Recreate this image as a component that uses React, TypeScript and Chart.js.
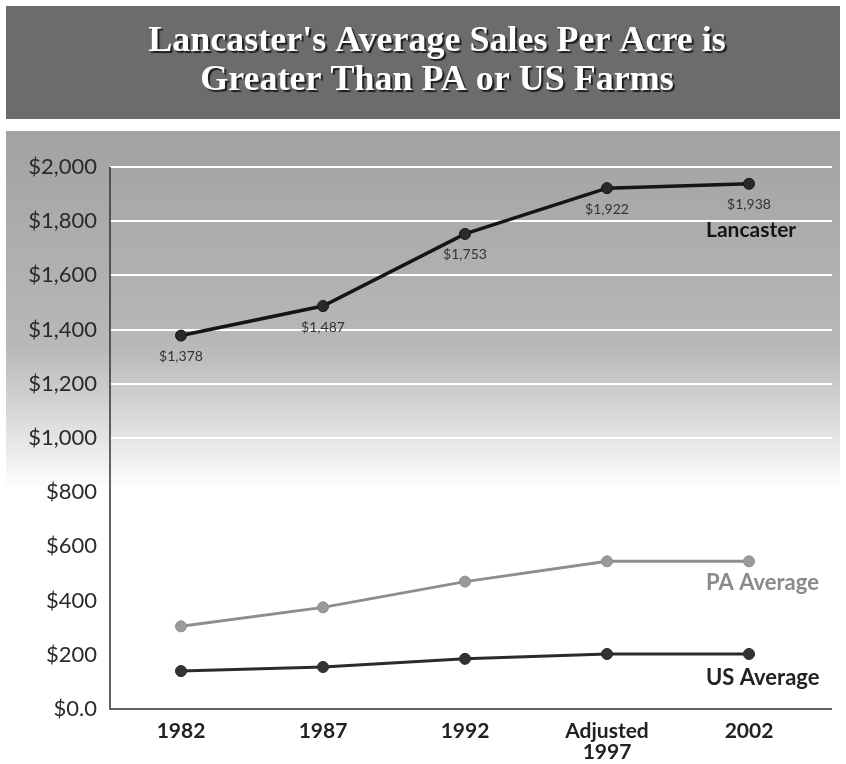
import React, { useEffect, useRef } from "react";
import { Chart, registerables } from "chart.js";

Chart.register(...registerables);

const categories: (string | string[])[] = ["1982", "1987", "1992", ["Adjusted", "1997"], "2002"];
const lancaster = [1378, 1487, 1753, 1922, 1938];
const paAverage = [305, 375, 470, 545, 545];
const usAverage = [140, 155, 185, 203, 203];
const lancasterLabels = ["$1,378", "$1,487", "$1,753", "$1,922", "$1,938"];
const yTickLabels = ["$0.0", "$200", "$400", "$600", "$800", "$1,000", "$1,200", "$1,400", "$1,600", "$1,800", "$2,000"];
const seriesNames = ["Lancaster", "PA Average", "US Average"];
const titleLines = ["Lancaster's Average Sales Per Acre is", "Greater Than PA or US Farms"];

const SANS = "Lato, 'Open Sans', 'DejaVu Sans', sans-serif";

const decor = {
  id: "decor",
  afterLayout(chart: any) {
    const tb = chart.titleBlock;
    if (tb) {
      tb.left = 28;
      tb.right = chart.width;
      if (!tb._shadowPatched) {
        const orig = tb.draw.bind(tb);
        tb.draw = function (area: any) {
          const c = chart.ctx;
          c.save();
          c.shadowColor = "rgba(20,20,20,0.9)";
          c.shadowOffsetX = 2;
          c.shadowOffsetY = 2;
          c.shadowBlur = 1;
          orig(area);
          c.restore();
        };
        tb._shadowPatched = true;
      }
    }
  },
  beforeDraw(chart: any) {
    const { ctx, width, height } = chart;
    ctx.save();
    ctx.fillStyle = "#ffffff";
    ctx.fillRect(0, 0, width, height);
    ctx.fillStyle = "#6c6c6c";
    ctx.fillRect(6, 6, width - 12, 113);
    const g = ctx.createLinearGradient(0, 131, 0, 490);
    g.addColorStop(0, "#a2a2a2");
    g.addColorStop(0.6, "#b8b8b8");
    g.addColorStop(0.8, "#dadada");
    g.addColorStop(1, "#ffffff");
    ctx.fillStyle = g;
    ctx.fillRect(6, 131, width - 12, 360);
    ctx.restore();
  },
  beforeDatasetsDraw(chart: any) {
    const { ctx, chartArea } = chart;
    const y = chart.scales.y;
    const right = chartArea.right + 12;
    ctx.save();
    ctx.strokeStyle = "#ffffff";
    ctx.lineWidth = 2;
    y.ticks.forEach((t: any) => {
      if (t.value === 0) return;
      const py = Math.round(y.getPixelForValue(t.value));
      ctx.beginPath();
      ctx.moveTo(chartArea.left, py);
      ctx.lineTo(right, py);
      ctx.stroke();
    });
    ctx.strokeStyle = "#333333";
    ctx.lineWidth = 1.5;
    ctx.beginPath();
    ctx.moveTo(chartArea.left, chartArea.top);
    ctx.lineTo(chartArea.left, chartArea.bottom);
    ctx.lineTo(right, chartArea.bottom);
    ctx.stroke();
    ctx.restore();
  },
  afterDatasetsDraw(chart: any) {
    const { ctx } = chart;
    ctx.save();
    ctx.textAlign = "center";
    ctx.textBaseline = "middle";
    ctx.font = "14px " + SANS;
    ctx.fillStyle = "#333333";
    const m0 = chart.getDatasetMeta(0);
    m0.data.forEach((pt: any, i: number) => {
      ctx.fillText(lancasterLabels[i], pt.x, pt.y + 21);
    });
    const offsets = [46, 22, 24];
    const fonts = ["bold 21px " + SANS, "bold 22px " + SANS, "bold 22px " + SANS];
    const colors = ["#151515", "#8a8a8a", "#222222"];
    ctx.textAlign = "left";
    for (let di = 0; di < 3; di++) {
      const meta = chart.getDatasetMeta(di);
      const last = meta.data[meta.data.length - 1];
      ctx.font = fonts[di];
      ctx.fillStyle = colors[di];
      ctx.fillText(seriesNames[di], last.x - 43, last.y + offsets[di]);
    }
    ctx.restore();
  },
};

export default function App() {
  const ref = useRef<HTMLCanvasElement | null>(null);
  useEffect(() => {
    document.body.style.margin = "0";
    if (!ref.current) return;
    const chart = new Chart(ref.current, {
      type: "line",
      data: {
        labels: categories as any,
        datasets: [
          {
            label: seriesNames[0],
            data: lancaster,
            borderColor: "#151515",
            backgroundColor: "#222222",
            borderWidth: 3.5,
            pointRadius: 5.5,
            pointBackgroundColor: "#2a2a2a",
            pointBorderColor: "#151515",
            pointBorderWidth: 1,
            tension: 0,
          },
          {
            label: seriesNames[1],
            data: paAverage,
            borderColor: "#8e8e8e",
            backgroundColor: "#999999",
            borderWidth: 3,
            pointRadius: 5.5,
            pointBackgroundColor: "#9a9a9a",
            pointBorderColor: "#8e8e8e",
            pointBorderWidth: 1,
            tension: 0,
          },
          {
            label: seriesNames[2],
            data: usAverage,
            borderColor: "#2b2b2b",
            backgroundColor: "#333333",
            borderWidth: 3,
            pointRadius: 5.5,
            pointBackgroundColor: "#333333",
            pointBorderColor: "#2b2b2b",
            pointBorderWidth: 1,
            tension: 0,
          },
        ],
      },
      options: {
        responsive: false,
        animation: false,
        devicePixelRatio: 1,
        layout: { padding: { top: 0, left: 0, right: 26, bottom: 0 } },
        plugins: {
          legend: { display: false },
          tooltip: { enabled: false },
          title: {
            display: true,
            text: titleLines,
            color: "#ffffff",
            font: { family: "'Liberation Serif', 'DejaVu Serif', serif", size: 36, weight: "bold", lineHeight: 1.0833 },
            padding: { top: 22.5, bottom: 66.5 },
          },
        },
        scales: {
          x: {
            type: "category",
            offset: true,
            grid: { display: false, drawTicks: false },
            border: { display: false },
            ticks: {
              color: "#222222",
              font: { family: SANS, size: 21, weight: "bold", lineHeight: 1.0 },
              padding: 12,
              maxRotation: 0,
              autoSkip: false,
            },
            afterFit: (s: any) => {
              s.height = 55;
            },
          },
          y: {
            min: 0,
            max: 2000,
            grid: { display: false, drawTicks: false },
            border: { display: false },
            ticks: {
              stepSize: 200,
              color: "#2a2a2a",
              font: { family: SANS, size: 22 },
              padding: 13,
              callback: (_v: any, i: number) => yTickLabels[i],
            },
            afterFit: (s: any) => {
              s.width = 110;
            },
          },
        },
      },
      plugins: [decor],
    });
    return () => chart.destroy();
  }, []);
  return <canvas ref={ref} width={846} height={764} />;
}
